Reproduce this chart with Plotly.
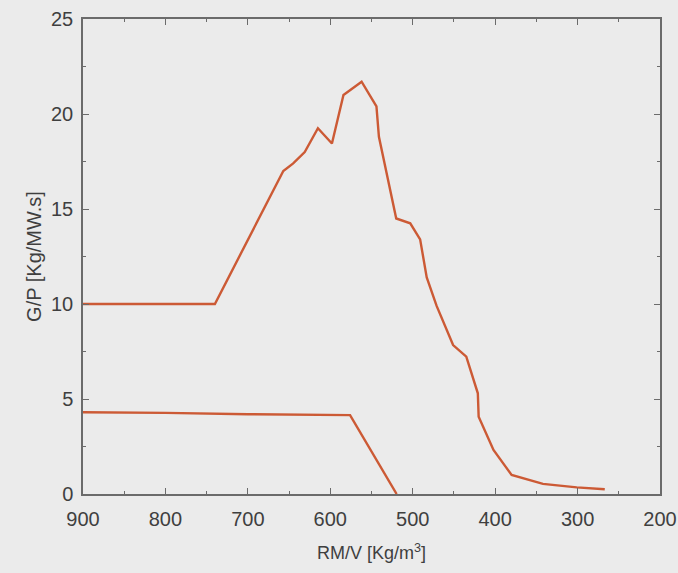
import plotly.graph_objects as go

# Upper curve: G/P vs RM/V
rmv_upper = [900, 740, 657, 645, 631, 615, 598, 584, 562, 544, 541, 520, 503,
             491, 483, 471, 451, 435, 421, 420, 402, 380, 342, 301, 267]
gp_upper = [10.0, 10.0, 17.0, 17.4, 18.0, 19.25, 18.45, 21.0, 21.7, 20.4, 18.8,
            14.5, 14.25, 13.4, 11.4, 9.9, 7.84, 7.23, 5.3, 4.07, 2.32, 1.0,
            0.53, 0.35, 0.25]

# Lower curve
rmv_lower = [900, 800, 700, 600, 576, 519.5]
gp_lower = [4.3, 4.27, 4.2, 4.15, 4.15, 0.0]

x_ticks = [900, 800, 700, 600, 500, 400, 300, 200]
y_ticks = [0, 5, 10, 15, 20, 25]

line_color = "#cc5a35"
axis_color = "#6b6b6b"
text_color = "#3f3f3f"
bg = "#ebebeb"
font_family = "Liberation Sans, Arial, sans-serif"

fig = go.Figure()
fig.add_trace(go.Scatter(x=rmv_upper, y=gp_upper, mode="lines",
                         line=dict(color=line_color, width=2.4),
                         showlegend=False))
fig.add_trace(go.Scatter(x=rmv_lower, y=gp_lower, mode="lines",
                         line=dict(color=line_color, width=2.4),
                         showlegend=False))

axis_common = dict(
    showline=True, linecolor=axis_color, linewidth=1.5, mirror="allticks",
    ticks="inside", ticklen=6, tickwidth=1.3, tickcolor=axis_color,
    showgrid=False, zeroline=False, automargin=False,
    tickfont=dict(family=font_family, size=20, color=text_color),
    minor=dict(ticks="inside", ticklen=3, tickwidth=1.2, tickcolor=axis_color,
               showgrid=False),
)

fig.update_xaxes(
    range=[900, 200], tickvals=x_ticks, ticktext=[str(v) for v in x_ticks],
    minor_dtick=50, minor_tick0=200,
    title=dict(text="RM/V [Kg/m<sup>3</sup>]",
               font=dict(family=font_family, size=18, color=text_color),
               standoff=18),
    ticklabelstandoff=6,
    **axis_common,
)
fig.update_yaxes(
    range=[0, 25], tickvals=y_ticks, ticktext=[str(v) for v in y_ticks],
    minor_dtick=2.5, minor_tick0=0,
    title=dict(text="G/P [Kg/MW.s]",
               font=dict(family=font_family, size=20, color=text_color),
               standoff=4),
    ticklabelstandoff=4,
    **axis_common,
)

fig.update_layout(
    width=678, height=573,
    margin=dict(l=83, r=18, t=19, b=79),
    paper_bgcolor=bg, plot_bgcolor=bg,
    font=dict(family=font_family, color=text_color),
)

fig.write_html("out.html")
